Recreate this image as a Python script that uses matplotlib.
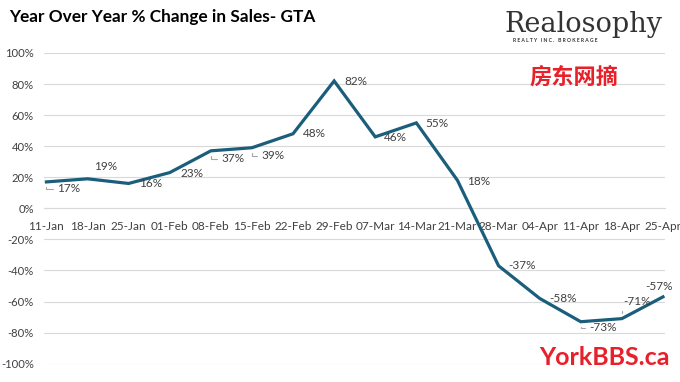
import matplotlib.pyplot as plt
from matplotlib.ticker import PercentFormatter

# weekly data
weeks = ['11-Jan', '18-Jan', '25-Jan', '01-Feb', '08-Feb', '15-Feb', '22-Feb', '29-Feb',
         '07-Mar', '14-Mar', '21-Mar', '28-Mar', '04-Apr', '11-Apr', '18-Apr', '25-Apr']
yoy_change = [17, 19, 16, 23, 37, 39, 48, 82, 46, 55, 18, -37, -58, -73, -71, -57]

# label offsets in pixels (dx, dy up), and which get a leader line
label_offsets = [(22, -7), (18, 12), (22, 0), (22, -1), (22, -8), (21, -8), (21, 0), (22, -1),
                 (20, -1), (21, -1), (21, -1), (23, 0), (23, 0), (22, -6), (15, 17), (-4, 10)]
leaders = [True, False, False, False, True, True, False, False,
           False, False, False, False, False, True, True, False]

line_color = '#1b5e7b'
text_color = '#404040'
plt.rcParams['font.family'] = ['Lato', 'DejaVu Sans']
plt.rcParams['axes.unicode_minus'] = False

fig = plt.figure(figsize=(6.8, 3.82), dpi=100)
ax = fig.add_axes([0.064, 0.048, 0.914, 0.8133])

x = list(range(len(weeks)))
ax.plot(x, yoy_change, color=line_color, lw=2.3, solid_joinstyle='miter', zorder=3)

for i, v in enumerate(yoy_change):
    dx, dy = label_offsets[i]
    props = None
    if leaders[i]:
        props = dict(arrowstyle='-', color='#a6a6a6', lw=0.8, shrinkA=1, shrinkB=4,
                     connectionstyle='angle,angleA=0,angleB=90,rad=0')
    ax.annotate(f'{v}%', (i, v), xytext=(dx, dy), textcoords='offset pixels',
                ha='center', va='center', fontsize=8.5, color=text_color,
                arrowprops=props, zorder=4)

ax.set_xlim(-0.07, 15.05)
ax.set_ylim(-100, 100)
ax.set_yticks(range(-100, 101, 20))
ax.yaxis.set_major_formatter(PercentFormatter(decimals=0))
ax.grid(axis='y', color='#d9d9d9', lw=0.8)
ax.set_axisbelow(True)

ax.set_xticks(x)
ax.set_xticklabels(weeks)
ax.spines['bottom'].set_position(('data', 0))
ax.spines['bottom'].set_color('#d9d9d9')
for s in ['top', 'right', 'left']:
    ax.spines[s].set_visible(False)
ax.tick_params(axis='x', length=0, pad=9, labelsize=8.5, labelcolor=text_color)
ax.tick_params(axis='y', length=0, pad=7, labelsize=8.1, labelcolor=text_color)

fig.text(0.013, 0.955, 'Year Over Year % Change in Sales- GTA', fontsize=12.4,
         fontweight='bold', color='black', va='center', ha='left')

# watermarks / logos
fig.text(0.858, 0.935, 'Realosophy', fontsize=19.5, family='DejaVu Serif',
         color='#333333', ha='center', va='center')
fig.text(0.817, 0.893, 'R E A L T Y   I N C .   B R O K E R A G E', fontsize=3.6,
         color='#333333', ha='center', va='center', fontweight='bold')
fig.text(0.844, 0.797, '房东网摘', fontsize=16, fontweight='bold', color='#e8202a',
         family=['Noto Sans CJK SC', 'DejaVu Sans'], ha='center', va='center')
fig.text(0.889, 0.064, 'YorkBBS.ca', fontsize=18, fontweight='bold', color='#e8202a',
         ha='center', va='center')

fig.savefig('out.png', dpi=100)
